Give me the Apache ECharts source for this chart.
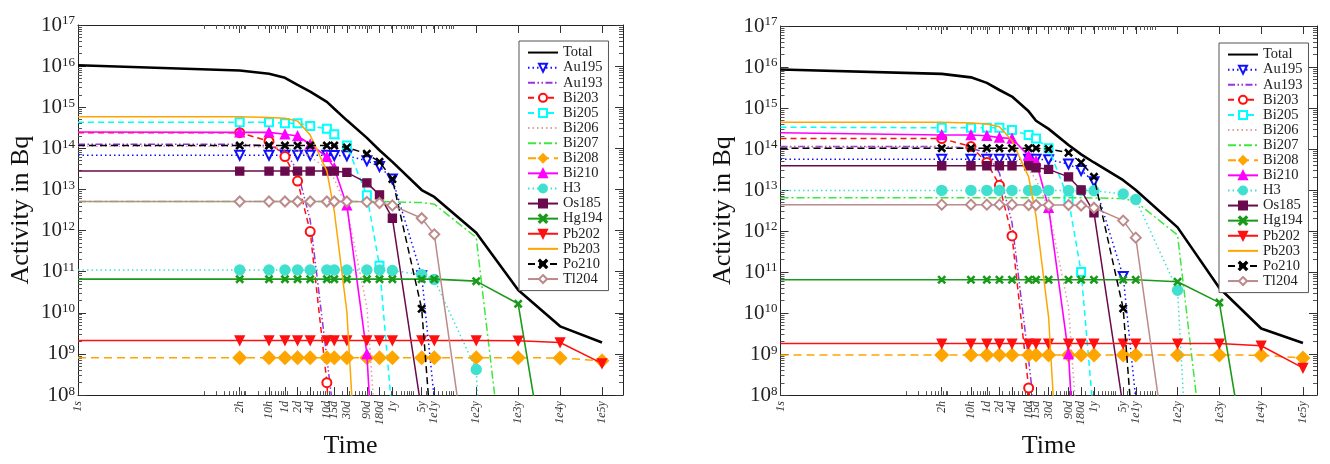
<!DOCTYPE html>
<html><head><meta charset="utf-8">
<script src="https://cdn.jsdelivr.net/npm/echarts@6/dist/echarts.min.js"></script>
<style>html,body{margin:0;padding:0;background:#fff}#c{width:1330px;height:464px}</style>
</head><body><div id="c"></div>
<script>
// ---- time points (seconds) and their tick labels ----
const timeSeconds = [1, 7200, 36000, 86400, 172800, 345600, 864000, 1296000, 2592000, 7776000, 15552000, 31557600, 157788000, 315576000, 3155760000, 31557600000, 315576000000, 3155760000000];
const timeLabels  = ['1s','2h','10h','1d','2d','4d','10d','15d','30d','90d','180d','1y','5y','1e1y','1e2y','1e3y','1e4y','1e5y'];
const yDecades = [8,9,10,11,12,13,14,15,16,17];
const nuclides = ['Total','Au195','Au193','Bi203','Bi205','Bi206','Bi207','Bi208','Bi210','H3','Os185','Hg194','Pb202','Pb203','Po210','Tl204'];

// ---- left panel (values in Bq, one per time point) ----
const L_Total = [1.05e16, 7.8e15, 6.5e15, 5.2e15, 3.5e15, 2.4e15, 1.35e15, 9.2e14, 4.8e14, 1.8e14, 9.0e13, 4.7e13, 9.7e12, 6.6e12, 8.9e11, 3.6e10, 4.7e9, 1.9e9];
const L_Au195 = [6.8e13, 6.8e13, 6.8e13, 6.8e13, 6.8e13, 6.8e13, 6.8e13, 6.7e13, 6.6e13, 5.0e13, 3.6e13, 1.8e13, 8.0e10, 8.0e7];
const L_Au193 = [1.26e14, 1.26e14, 1.15e14, 8.9e13, 2.8e13, 1.8e12, 7.9e8, 2.5e7];
const L_Bi203 = [2.4e14, 2.4e14, 1.5e14, 6.3e13, 1.6e13, 9.5e11, 2.0e8, 1.6e5];
const L_Bi205 = [4.3e14, 4.3e14, 4.3e14, 4.1e14, 4.1e14, 3.5e14, 3.0e14, 2.2e14, 1.17e14, 7.2e12, 1.4e11, 3.0e7];
const L_Bi206 = [1.12e14, 1.12e14, 1.07e14, 1.0e14, 8.9e13, 6.3e13, 3.2e13, 1.8e13, 3.5e12, 1.4e10, 6.0e5];
const L_Bi207 = [5.1e12, 5.1e12, 5.1e12, 5.1e12, 5.1e12, 5.1e12, 5.1e12, 5.1e12, 5.1e12, 5.1e12, 5.1e12, 5.0e12, 4.8e12, 4.4e12, 6.8e11, 1.3e3];
const L_Bi208 = [8.1e8, 8.1e8, 8.1e8, 8.1e8, 8.1e8, 8.1e8, 8.1e8, 8.1e8, 8.1e8, 8.1e8, 8.1e8, 8.1e8, 8.1e8, 8.1e8, 8.1e8, 8.1e8, 8.0e8, 6.8e8];
const L_Bi210 = [2.5e14, 2.45e14, 2.45e14, 2.2e14, 2.0e14, 1.26e14, 6.2e13, 3.3e13, 4.1e12, 1.0e9, 4.0e3];
const L_H3    = [1.1e11, 1.1e11, 1.1e11, 1.1e11, 1.1e11, 1.1e11, 1.1e11, 1.1e11, 1.1e11, 1.1e11, 1.1e11, 1.07e11, 8.5e10, 6.5e10, 4.2e8, 1.0e-10];
const L_Os185 = [2.8e13, 2.8e13, 2.8e13, 2.8e13, 2.8e13, 2.8e13, 2.8e13, 2.8e13, 2.6e13, 1.45e13, 7.4e12, 2.0e12, 4.0e7];
const L_Hg194 = [6.6e10, 6.6e10, 6.6e10, 6.6e10, 6.6e10, 6.6e10, 6.6e10, 6.6e10, 6.6e10, 6.6e10, 6.6e10, 6.6e10, 6.6e10, 6.6e10, 5.9e10, 1.66e10, 1.3e4];
const L_Pb202 = [2.14e9, 2.14e9, 2.14e9, 2.14e9, 2.14e9, 2.14e9, 2.14e9, 2.14e9, 2.14e9, 2.14e9, 2.14e9, 2.14e9, 2.14e9, 2.14e9, 2.14e9, 2.1e9, 1.9e9, 5.9e8];
const L_Pb203 = [5.9e14, 5.9e14, 5.6e14, 5.4e14, 4.6e14, 2.1e14, 2.8e13, 3.0e12, 1.05e10, 50];
const L_Po210 = [1.17e14, 1.17e14, 1.17e14, 1.17e14, 1.17e14, 1.17e14, 1.17e14, 1.17e14, 1.05e14, 7.4e13, 4.7e13, 1.8e13, 1.26e10, 1.3e6];
const L_Tl204 = [5.1e12, 5.1e12, 5.1e12, 5.1e12, 5.1e12, 5.1e12, 5.1e12, 5.1e12, 5.1e12, 5.0e12, 4.7e12, 4.1e12, 2.0e12, 8.1e11, 5.0e4];

// ---- right panel ----
const R_Total = [8.7e15, 6.8e15, 5.6e15, 4.1e15, 2.75e15, 1.9e15, 8.3e14, 4.9e14, 3.1e14, 1.26e14, 7.4e13, 4.7e13, 1.74e13, 1.0e13, 1.23e12, 4.1e10, 4.2e9, 1.86e9];
const R_Au195 = [5.6e13, 5.6e13, 5.6e13, 5.6e13, 5.6e13, 5.6e13, 5.6e13, 5.6e13, 5.5e13, 4.3e13, 3.0e13, 1.6e13, 7.8e10, 8.0e7];
const R_Au193 = [1.15e14, 1.15e14, 1.05e14, 8.1e13, 2.6e13, 1.6e12, 7.0e8, 2.0e7];
const R_Bi203 = [1.8e14, 1.8e14, 1.15e14, 4.7e13, 1.3e13, 7.6e11, 1.5e8, 1.0e5];
const R_Bi205 = [3.4e14, 3.3e14, 3.3e14, 3.3e14, 3.3e14, 2.9e14, 2.2e14, 1.8e14, 1.05e14, 5.9e12, 1.0e11, 2.5e7];
const R_Bi206 = [1.1e14, 1.1e14, 1.05e14, 1.0e14, 8.9e13, 6.3e13, 3.2e13, 1.8e13, 3.5e12, 1.4e10, 6.0e5];
const R_Bi207 = [6.5e12, 6.5e12, 6.5e12, 6.5e12, 6.5e12, 6.5e12, 6.5e12, 6.5e12, 6.5e12, 6.5e12, 6.5e12, 6.4e12, 6.2e12, 5.2e12, 8.0e11, 1.5e3];
const R_Bi208 = [9.5e8, 9.5e8, 9.5e8, 9.5e8, 9.5e8, 9.5e8, 9.5e8, 9.5e8, 9.5e8, 9.5e8, 9.5e8, 9.5e8, 9.5e8, 9.5e8, 9.5e8, 9.5e8, 9.4e8, 8.0e8];
const R_Bi210 = [2.5e14, 2.2e14, 2.2e14, 2.1e14, 1.9e14, 1.8e14, 6.8e13, 5.1e13, 3.7e12, 1.0e9, 4.0e3];
const R_H3    = [9.8e12, 9.8e12, 9.8e12, 9.8e12, 9.8e12, 9.8e12, 9.8e12, 9.8e12, 9.8e12, 9.8e12, 9.8e12, 9.6e12, 8.0e12, 5.9e12, 3.6e10, 1.0e-8];
const R_Os185 = [3.9e13, 3.9e13, 3.9e13, 3.9e13, 3.9e13, 3.9e13, 3.9e13, 3.5e13, 3.2e13, 2.1e13, 1.0e13, 2.8e12, 5.0e7];
const R_Hg194 = [6.5e10, 6.5e10, 6.5e10, 6.5e10, 6.5e10, 6.5e10, 6.5e10, 6.5e10, 6.5e10, 6.5e10, 6.5e10, 6.5e10, 6.5e10, 6.5e10, 5.8e10, 1.8e10, 1.3e4];
const R_Pb202 = [1.8e9, 1.8e9, 1.8e9, 1.8e9, 1.8e9, 1.8e9, 1.8e9, 1.8e9, 1.8e9, 1.8e9, 1.8e9, 1.8e9, 1.8e9, 1.8e9, 1.8e9, 1.8e9, 1.6e9, 4.6e8];
const R_Pb203 = [4.5e14, 4.5e14, 4.3e14, 4.1e14, 3.5e14, 1.6e14, 2.1e13, 2.3e12, 8.0e9, 40];
const R_Po210 = [1.05e14, 1.05e14, 1.05e14, 1.05e14, 1.05e14, 1.05e14, 1.05e14, 1.05e14, 1.0e14, 8.1e13, 4.7e13, 2.1e13, 1.3e10, 1.3e6];
const R_Tl204 = [4.4e12, 4.4e12, 4.4e12, 4.4e12, 4.4e12, 4.4e12, 4.3e12, 4.3e12, 4.3e12, 4.3e12, 4.2e12, 3.7e12, 1.8e12, 6.9e11, 4.0e4];

const leftPanel  = [L_Total,L_Au195,L_Au193,L_Bi203,L_Bi205,L_Bi206,L_Bi207,L_Bi208,L_Bi210,L_H3,L_Os185,L_Hg194,L_Pb202,L_Pb203,L_Po210,L_Tl204];
const rightPanel = [R_Total,R_Au195,R_Au193,R_Bi203,R_Bi205,R_Bi206,R_Bi207,R_Bi208,R_Bi210,R_H3,R_Os185,R_Hg194,R_Pb202,R_Pb203,R_Po210,R_Tl204];

// ---- styles ----
const XPATH = 'path://M0,1.2L1.2,0L5,3.8L8.8,0L10,1.2L6.2,5L10,8.8L8.8,10L5,6.2L1.2,10L0,8.8L3.8,5Z';
const styles = {
  Total: {color:'#000000', width:2.6, type:'solid', symbol:'none'},
  Au195: {color:'#1010ff', width:1.5, type:[1.5,3], symbol:'emptyTriangle', rotate:180, size:9},
  Au193: {color:'#9932e0', width:1.5, type:[7,2.5,1.5,2.5,1.5,2.5], symbol:'none'},
  Bi203: {color:'#ff1010', width:1.5, type:[6,4], symbol:'emptyCircle', size:9},
  Bi205: {color:'#00ffff', width:1.5, type:[6,4], symbol:'emptyRect', size:8},
  Bi206: {color:'#dca0a0', width:1.5, type:[1.5,3], symbol:'none'},
  Bi207: {color:'#3ce83c', width:1.5, type:[8,3,2,3], symbol:'none'},
  Bi208: {color:'#ffa500', width:1.5, type:[8,5], symbol:'diamond', size:13},
  Bi210: {color:'#ff00ff', width:1.6, type:'solid', symbol:'triangle', size:9},
  H3:    {color:'#40e0d0', width:1.5, type:[1.5,3], symbol:'circle', size:10},
  Os185: {color:'#6a0a4c', width:1.5, type:'solid', symbol:'rect', size:8},
  Hg194: {color:'#1a9a1a', width:1.6, type:'solid', symbol:XPATH, size:7},
  Pb202: {color:'#ff1010', width:1.5, type:'solid', symbol:'triangle', rotate:180, size:9},
  Pb203: {color:'#ffa500', width:1.5, type:'solid', symbol:'none'},
  Po210: {color:'#000000', width:1.5, type:[7,4], symbol:XPATH, size:7},
  Tl204: {color:'#bc8a8a', width:1.5, type:'solid', symbol:'emptyDiamond', size:10}
};

const SERIF = 'Liberation Serif';
const majorTicksX = timeSeconds.slice();
const minorTicksX = [];
for (let k = 3; k <= 8; k++) for (let n = 1; n <= 9; n++) minorTicksX.push(n * Math.pow(10, k));
const majorTicksY = yDecades.map(e => Math.pow(10, e));
const minorTicksY = [];
for (let k = 8; k <= 16; k++) for (let n = 2; n <= 9; n++) minorTicksY.push(n * Math.pow(10, k));

function labelFor(v) {
  for (let i = 0; i < timeSeconds.length; i++) {
    if (Math.abs(Math.log10(v) - Math.log10(timeSeconds[i])) < 1e-6) return timeLabels[i];
  }
  return '';
}

const grids = [
  {left: 78, top: 25, width: 545, height: 381},
  {left: 780.5, top: 26, width: 536.5, height: 380}
];
const xMax = [1e13, Math.pow(10, 536.5 / 41.8)];

const xAxes = [], yAxes = [];
grids.forEach((g, gi) => {
  const base = {type:'log', logBase:10, min:1, max:xMax[gi], gridIndex:gi, splitLine:{show:false}};
  xAxes.push(Object.assign({}, base, {position:'bottom',
    axisLine:{show:true, lineStyle:{color:'#222', width:1}},
    axisTick:{show:true, inside:true, length:8, customValues:majorTicksX, lineStyle:{color:'#333'}},
    axisLabel:{show:true, customValues:majorTicksX, formatter:labelFor, rotate:90, margin:6,
      fontFamily:SERIF, fontStyle:'italic', fontSize:12, color:'#333'},
    name:'Time', nameLocation:'middle', nameGap:34,
    nameTextStyle:{fontFamily:SERIF, fontSize:26, color:'#111'}}));
  xAxes.push(Object.assign({}, base, {position:'bottom',
    axisLine:{show:false}, axisLabel:{show:false},
    axisTick:{show:true, inside:true, length:4, customValues:minorTicksX, lineStyle:{color:'#555'}}}));
  xAxes.push(Object.assign({}, base, {position:'top',
    axisLine:{show:true, lineStyle:{color:'#222', width:1}}, axisLabel:{show:false},
    axisTick:{show:true, inside:true, length:8, customValues:majorTicksX, lineStyle:{color:'#333'}}}));
  xAxes.push(Object.assign({}, base, {position:'top',
    axisLine:{show:false}, axisLabel:{show:false},
    axisTick:{show:true, inside:true, length:4, customValues:minorTicksX, lineStyle:{color:'#555'}}}));

  const ybase = {type:'log', logBase:10, min:1e8, max:1e17, gridIndex:gi, splitLine:{show:false}};
  yAxes.push(Object.assign({}, ybase, {position:'left',
    axisLine:{show:true, lineStyle:{color:'#222', width:1}},
    axisTick:{show:true, inside:true, length:8, customValues:majorTicksY, lineStyle:{color:'#333'}},
    axisLabel:{show:true, customValues:majorTicksY, margin:3,
      formatter: v => '{b|10}{s|' + Math.round(Math.log10(v)) + '}',
      rich:{b:{fontFamily:SERIF, fontSize:21, color:'#222'},
            s:{fontFamily:SERIF, fontSize:13, color:'#222', verticalAlign:'top', lineHeight:12}}},
    name:'Activity in Bq', nameLocation:'middle', nameRotate:90, nameGap:44,
    nameTextStyle:{fontFamily:SERIF, fontSize:26, color:'#111'}}));
  yAxes.push(Object.assign({}, ybase, {position:'left',
    axisLine:{show:false}, axisLabel:{show:false},
    axisTick:{show:true, inside:true, length:4, customValues:minorTicksY, lineStyle:{color:'#555'}}}));
  yAxes.push(Object.assign({}, ybase, {position:'right',
    axisLine:{show:true, lineStyle:{color:'#222', width:1}}, axisLabel:{show:false},
    axisTick:{show:true, inside:true, length:8, customValues:majorTicksY, lineStyle:{color:'#333'}}}));
  yAxes.push(Object.assign({}, ybase, {position:'right',
    axisLine:{show:false}, axisLabel:{show:false},
    axisTick:{show:true, inside:true, length:4, customValues:minorTicksY, lineStyle:{color:'#555'}}}));
});

const series = [];
[leftPanel, rightPanel].forEach((panel, pi) => {
  nuclides.forEach((name, ni) => {
    const st = styles[name];
    const vals = panel[ni];
    const data = [];
    vals.forEach((v, i) => {
      if (v == null) return;
      const item = {value:[timeSeconds[i], v]};
      if (i === 0) item.symbol = 'none';
      data.push(item);
    });
    series.push({
      type:'line', name:name, xAxisIndex:pi*4, yAxisIndex:pi*4, data:data,
      symbol:st.symbol, symbolSize:st.size || 8, symbolRotate:st.rotate || 0,
      showSymbol: st.symbol !== 'none',
      lineStyle:{color:st.color, width:st.width, type:st.type},
      itemStyle:{color:st.color, borderColor:st.color, borderWidth:1.4},
      clip:true, silent:true, z: 2 + ni
    });
  });
});

const legendData = nuclides.map(n => styles[n].symbol === 'none'
  ? {name:n, itemStyle:{opacity:0}} : {name:n});
const legendBase = {orient:'vertical', itemWidth:30, itemHeight:10, itemGap:0,
  padding:[4,6,4,8], borderColor:'#555', borderWidth:1, backgroundColor:'#fff',
  selectedMode:false, data:legendData,
  textStyle:{fontFamily:SERIF, fontSize:14.5, color:'#222', lineHeight:15.1}};

const chart = echarts.init(document.getElementById('c'), null, {renderer:'canvas'});
chart.setOption({
  animation:false,
  backgroundColor:'#fff',
  grid:grids,
  xAxis:xAxes,
  yAxis:yAxes,
  legend:[Object.assign({}, legendBase, {left:519, top:41}),
          Object.assign({}, legendBase, {left:1219, top:43})],
  series:series
});
</script></body></html>
